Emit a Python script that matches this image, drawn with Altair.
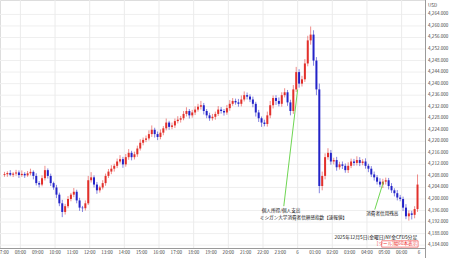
import altair as alt
import pandas as pd

# ---- data (10-minute bars, hours after 07:00) ----
closes = [
    4208.6, 4209.0, 4208.4, 4208.8, 4209.2, 4208.3, 4208.7, 4208.2, 4208.9, 4209.4, 4208.0, 4205.5,
    4205.0, 4207.2, 4210.0, 4208.0, 4205.5, 4204.0, 4201.5, 4198.5, 4195.5, 4197.5, 4200.0, 4201.5,
    4202.5, 4199.5, 4197.0, 4196.8, 4198.5, 4206.5, 4207.5, 4205.0, 4203.0, 4204.0, 4205.5, 4208.0,
    4209.5, 4210.5, 4211.5, 4213.0, 4213.8, 4212.0, 4214.5, 4216.0, 4214.5, 4215.5, 4217.5, 4219.5,
    4220.5, 4221.0, 4222.5, 4224.0, 4222.5, 4221.5, 4223.0, 4224.5, 4226.5, 4225.0, 4225.5, 4227.0,
    4227.5, 4228.0, 4229.5, 4230.5, 4229.0, 4230.0, 4231.0, 4232.0, 4232.5, 4230.5, 4229.0, 4228.0,
    4228.5, 4229.5, 4231.0, 4230.5, 4230.0, 4231.5, 4233.0, 4234.0, 4233.5, 4233.0, 4234.5, 4236.0,
    4235.5, 4234.5, 4233.0, 4230.0, 4228.0, 4226.5, 4226.0, 4229.0, 4232.5, 4235.0, 4234.0, 4233.0,
    4236.0, 4237.0, 4233.5, 4230.5, 4238.0, 4244.0, 4240.0, 4241.5, 4247.0, 4255.0, 4257.0, 4248.0,
    4238.0, 4204.5, 4208.0, 4214.5, 4216.0, 4213.0, 4213.5, 4211.0, 4212.0, 4211.5, 4210.0, 4211.5,
    4213.0, 4212.5, 4213.5, 4212.5, 4213.0, 4211.5, 4210.5, 4208.5, 4207.5, 4206.0, 4205.0, 4206.0,
    4206.5, 4204.5, 4203.0, 4202.0, 4200.5, 4200.0, 4197.0, 4194.0, 4195.0, 4194.5, 4196.5, 4205.0,
]
first_open = 4208.3
wick_up = [
    0.8, 0.6, 1.0, 0.5, 0.9, 0.7, 1.2, 0.6, 0.8, 1.1, 0.5, 0.9,
    0.7, 1.0, 1.5, 0.6, 0.8, 0.5, 0.9, 0.7, 1.2, 0.8, 1.0, 0.6,
    1.3, 0.7, 0.9, 0.6, 1.0, 1.5, 1.8, 0.7, 0.9, 0.6, 1.0, 0.8,
    0.9, 1.2, 0.7, 1.0, 1.4, 0.8, 1.1, 1.3, 0.7, 0.9, 1.0, 1.2,
    0.8, 1.0, 1.3, 1.5, 0.7, 0.9, 1.1, 0.8, 1.4, 0.6, 1.0, 0.9,
    1.2, 0.8, 1.0, 1.3, 0.7, 0.9, 1.1, 1.0, 1.5, 0.8, 0.7, 0.9,
    1.0, 0.8, 1.2, 0.9, 0.7, 1.1, 1.3, 1.0, 0.8, 1.2, 1.4, 1.3,
    0.9, 0.8, 1.0, 0.7, 0.9, 0.6, 1.0, 1.3, 1.5, 0.9, 1.0, 1.2,
    1.0, 1.4, 0.8, 0.9, 1.5, 1.8, 1.0, 1.2, 1.5, 1.6, 2.8, 1.5,
    1.2, 2.0, 1.5, 1.3, 1.6, 1.0, 0.8, 1.1, 0.9, 1.0, 0.8, 1.2,
    1.0, 0.9, 1.3, 1.0, 0.8, 1.1, 0.7, 0.9, 1.0, 0.8, 1.2, 1.0,
    0.9, 0.8, 1.0, 0.7, 1.1, 0.9, 0.8, 1.2, 1.0, 0.9, 1.0, 3.5,
]
wick_dn = [
    0.6, 0.9, 0.5, 0.8, 0.7, 1.0, 0.6, 0.9, 0.5, 0.7, 1.2, 0.8,
    1.0, 0.6, 0.8, 0.9, 1.0, 0.8, 1.2, 1.0, 1.8, 0.9, 0.7, 0.8,
    0.9, 1.0, 1.1, 1.3, 0.8, 0.6, 0.8, 1.0, 1.2, 0.8, 0.7, 0.9,
    0.7, 0.9, 1.0, 0.8, 0.7, 1.2, 0.8, 0.9, 1.1, 0.8, 0.9, 0.7,
    0.9, 0.8, 0.7, 1.0, 1.2, 1.1, 0.8, 0.9, 0.7, 1.0, 0.8, 0.9,
    0.8, 1.0, 0.7, 0.9, 1.1, 0.8, 0.9, 0.7, 1.0, 1.2, 1.0, 0.9,
    0.8, 1.0, 0.7, 0.9, 1.1, 0.8, 0.9, 0.7, 0.8, 1.0, 0.9, 0.7,
    1.0, 0.9, 1.2, 1.4, 1.3, 1.5, 0.8, 0.9, 1.0, 1.1, 1.4, 0.9,
    1.0, 0.8, 1.2, 1.5, 1.0, 0.9, 1.4, 1.0, 0.9, 1.0, 1.5, 1.8,
    2.0, 2.5, 1.5, 1.2, 0.9, 1.1, 1.0, 1.2, 0.8, 1.1, 0.9, 1.0,
    0.8, 1.0, 0.9, 1.1, 0.8, 1.0, 1.2, 0.9, 1.1, 1.0, 0.9, 1.2,
    1.0, 1.2, 0.9, 1.1, 1.0, 0.8, 1.2, 1.0, 1.5, 1.6, 1.2, 1.0,
]

x_labels = ["07:00", "08:00", "09:00", "10:00", "11:00", "12:00", "13:00", "14:00",
            "15:00", "16:00", "17:00", "18:00", "19:00", "20:00", "21:00", "22:00",
            "23:00", "6", "01:00", "02:00", "03:00", "04:00", "05:00", "06:00", "6"]
y_ticks = list(range(4184, 4265, 4))
v_grid_hours = list(range(1, 25, 2))

events = ["個人所得/個人支出", "ミシガン大学消費者信頼感指数【速報値】", "消費者信用残高"]
title_text = "2025年12月5日(金曜日)NY金CFD5分足"
box_text = "[ツール]幅60本表示"

FONT = "Noto Sans CJK JP"
UP, DOWN = "#e2302b", "#2323c8"
W, H = 425, 248

# ---- tables ----
n = len(closes)
opens = [first_open] + closes[:-1]
bars = pd.DataFrame({
    "h": [i / 6 + 1 / 12 for i in range(n)],
    "open": opens,
    "close": closes,
    "high": [max(o, c) + u for o, c, u in zip(opens, closes, wick_up)],
    "low": [min(o, c) - d for o, c, d in zip(opens, closes, wick_dn)],
    "dir": ["up" if c >= o else "down" for o, c in zip(opens, closes)],
})

xs = alt.Scale(domain=[0.113, 24.06], nice=False, zero=False)
ys = alt.Scale(domain=[4183, 4269], nice=False, zero=False)
col = alt.Color("dir:N", scale=alt.Scale(domain=["up", "down"], range=[UP, DOWN]), legend=None)


def X(f):
    return alt.X(f, scale=xs, axis=None)


def Y(f):
    return alt.Y(f, scale=ys, axis=None)


# grid + axis lines
hgrid = alt.Chart(pd.DataFrame({"v": y_ticks})).mark_rule(color="#efefef", strokeWidth=1).encode(
    y=Y("v:Q"), x=alt.value(0), x2=alt.value(W))
vgrid = alt.Chart(pd.DataFrame({"h": v_grid_hours})).mark_rule(color="#ebebeb", strokeWidth=1).encode(
    x=X("h:Q"), y=alt.value(0), y2=alt.value(H))
axis_r = alt.Chart(pd.DataFrame({"a": [0]})).mark_rule(color="#9a9a9a", strokeWidth=1).encode(
    x=alt.value(W + 0.5), y=alt.value(0), y2=alt.value(258))
axis_b = alt.Chart(pd.DataFrame({"a": [0]})).mark_rule(color="#9a9a9a", strokeWidth=1).encode(
    y=alt.value(H + 0.5), x=alt.value(0), x2=alt.value(W))

base = alt.Chart(bars)
wicks = base.mark_rule(strokeWidth=1, opacity=0.55).encode(
    x=X("h:Q"), y=Y("low:Q"), y2="high:Q", color=col)
bodies = base.mark_bar(size=2).encode(x=X("h:Q"), y=Y("open:Q"), y2="close:Q", color=col)

ylab = alt.Chart(pd.DataFrame({"v": y_ticks})).mark_text(
    font=FONT, fontSize=4.6, color="#444", align="left", baseline="middle").encode(
    x=alt.value(W + 3), y=Y("v:Q"), text=alt.Text("v:Q", format=",.3f"))

xl = pd.DataFrame({"h": list(range(len(x_labels))), "lab": x_labels})
xlab = alt.Chart(xl).mark_text(font=FONT, fontSize=4.6, color="#444", baseline="middle").encode(
    x=X("h:Q"), y=alt.value(253), text="lab:N")

usd = alt.Chart(pd.DataFrame({"t": ["USD"]})).mark_text(
    font=FONT, fontSize=4.6, color="#444", align="left").encode(
    x=alt.value(W + 3), y=alt.value(6), text="t:N")

lines = pd.DataFrame({
    "h1": [16.2, 21.45], "v1": [4197.5, 4196.3],
    "h2": [17.0, 21.95], "v2": [4238.0, 4206.0],
})
green = alt.Chart(lines).mark_rule(color="#6fd653", strokeWidth=1).encode(
    x=X("h1:Q"), x2="h2:Q", y=Y("v1:Q"), y2="v2:Q")

notes = pd.DataFrame({
    "h": [14.93, 14.82, 20.96],
    "v": [4195.8, 4193.4, 4194.8],
    "t": events,
})
note_txt = alt.Chart(notes).mark_text(font=FONT, fontSize=4.6, color="#111", align="left").encode(
    x=X("h:Q"), y=Y("v:Q"), text="t:N")

ttl = alt.Chart(pd.DataFrame({"h": [23.9], "v": [4186.6], "t": [title_text]})).mark_text(
    font=FONT, fontSize=4.8, color="#111", align="right").encode(
    x=X("h:Q"), y=Y("v:Q"), text="t:N")

box = alt.Chart(pd.DataFrame({"h1": [21.85], "h2": [23.95], "v1": [4183.3], "v2": [4185.5]})).mark_rect(
    fill="white", stroke="#e33", strokeWidth=0.6).encode(
    x=X("h1:Q"), x2="h2:Q", y=Y("v1:Q"), y2="v2:Q")
box_t = alt.Chart(pd.DataFrame({"h": [23.9], "v": [4184.4], "t": [box_text]})).mark_text(
    font=FONT, fontSize=4.6, color="#e33", align="right", baseline="middle").encode(
    x=X("h:Q"), y=Y("v:Q"), text="t:N")

chart = alt.layer(hgrid, vgrid, axis_b, axis_r, wicks, bodies, green, note_txt, ttl, box, box_t,
                  ylab, xlab, usd).properties(
    width=W, height=H,
    autosize=alt.AutoSizeParams(type="none"),
    padding={"left": 0, "top": 0, "right": 25, "bottom": 10},
).configure_view(stroke=None).configure(background="white")

chart.save("out.html", embed_options={"renderer": "svg", "actions": False})
